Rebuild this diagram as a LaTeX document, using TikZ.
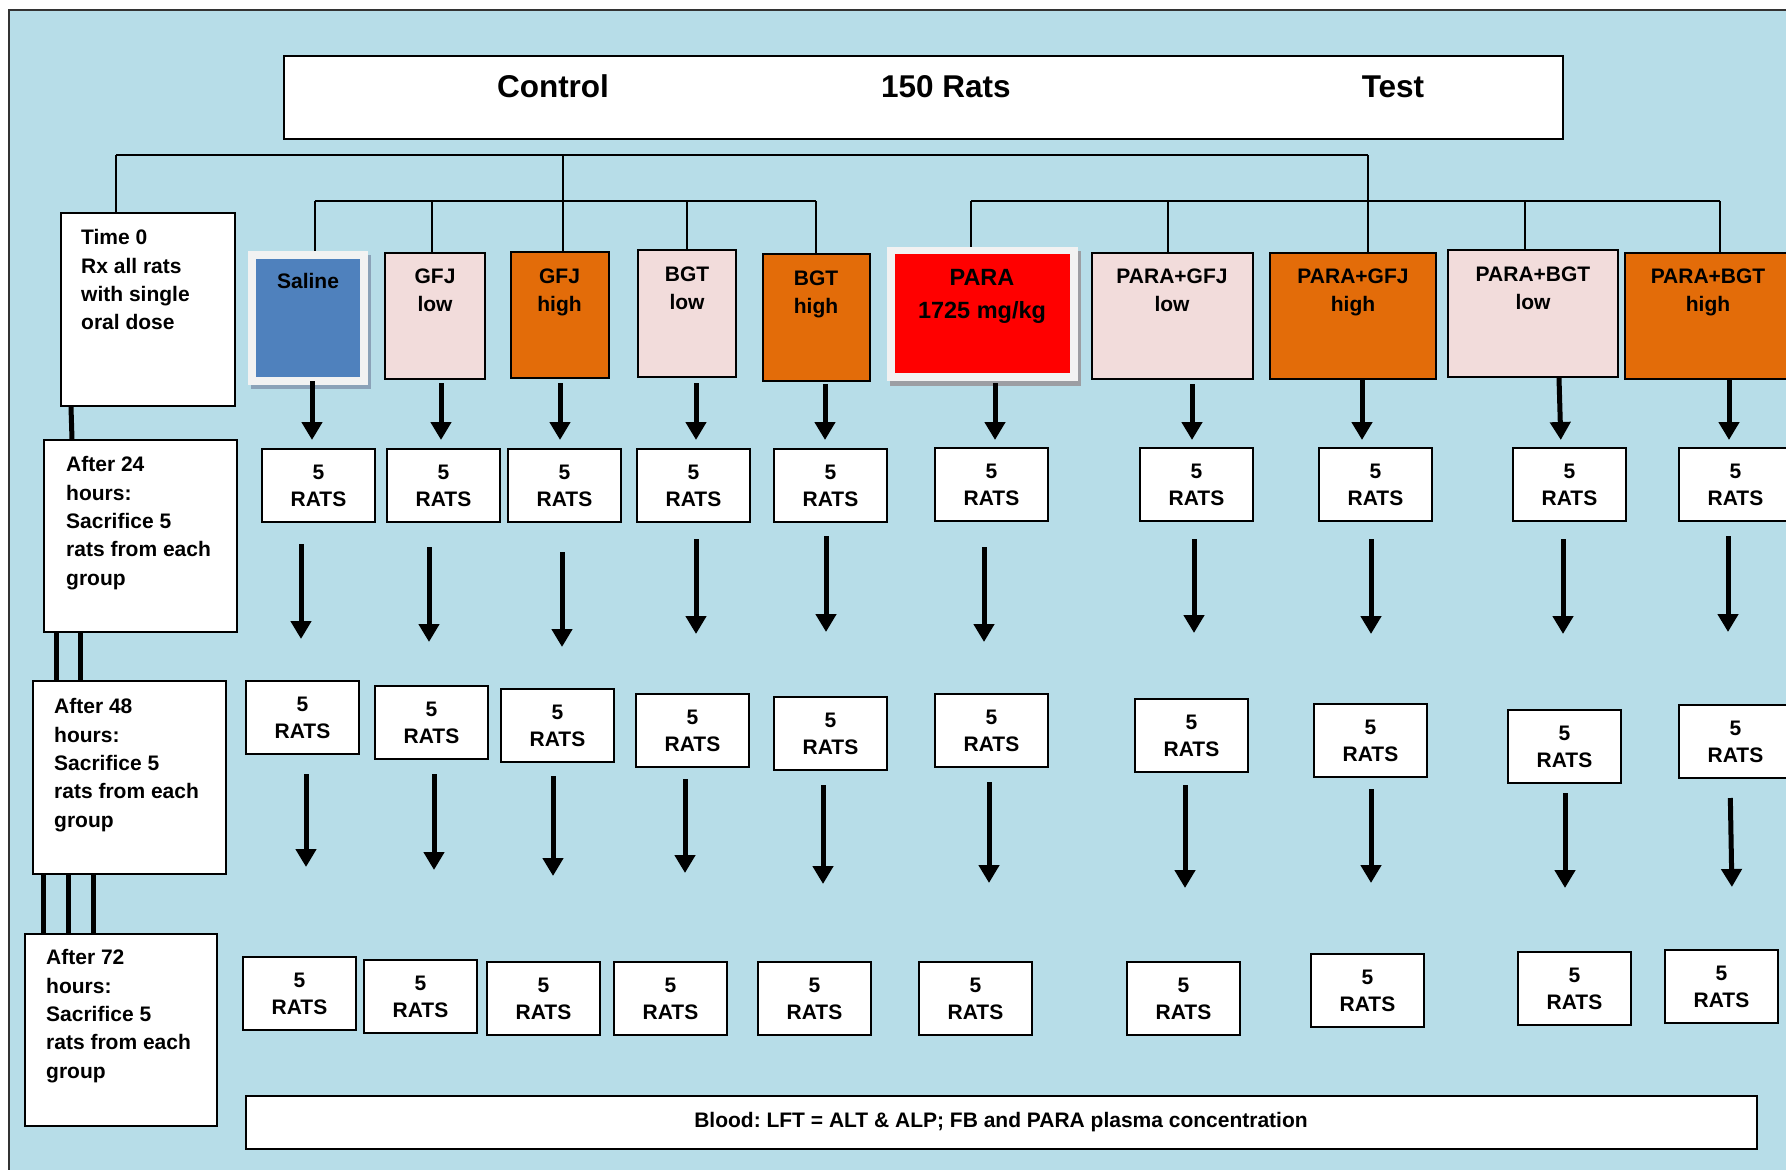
\documentclass[tikz,border=0pt]{standalone}
\usepackage{fontspec}
\setmainfont{Liberation Sans}
\usetikzlibrary{arrows.meta,fit}
\frenchspacing
\definecolor{bgblue}{HTML}{B7DDE8}
\definecolor{salblue}{HTML}{4F81BD}
\definecolor{lowpink}{HTML}{F2DCDB}
\definecolor{highorange}{HTML}{E36C09}
\definecolor{paleframe}{HTML}{F2F2F2}
\definecolor{salshadow}{HTML}{8BA2B8}
\definecolor{parashadow}{HTML}{9C9EA3}
\begin{document}
\begin{tikzpicture}[x=1pt,y=-1pt,
  box/.style={draw=black, line width=2pt, inner sep=0pt},
  fitbox/.style={box, fit={#1}},
  ratbox/.style={box, fill=white, minimum width=113pt, minimum height=73pt,
    anchor=north west, align=center, font=\fontsize{21}{27}\selectfont\bfseries},
  tree/.style={line width=1.6pt, draw=black},
  spine/.style={line width=5pt, draw=black},
  bigarrow/.style={line width=5pt, draw=black, -{Triangle[width=20pt,length=18pt]}},
  glabel/.style={anchor=north, inner sep=0pt, align=center,
    font=\fontsize{21}{28.5}\selectfont\bfseries},
  tlabel/.style={anchor=north west, inner sep=0pt, align=left,
    font=\fontsize{21}{28.3}\selectfont\bfseries},
  title/.style={anchor=base, inner sep=0pt, font=\fontsize{31.5}{36}\selectfont\bfseries},
]
\useasboundingbox (0,0) rectangle (1786,1170);
\clip (0,0) rectangle (1786,1170);

% background panel
\draw[line width=1.5pt, draw=black!80, fill=bgblue] (9,10) rectangle (1810,1190);

% heading box
\node[fitbox={(284,56) (1563,139)}, fill=white] (top) {};
\node[title] (tctl) at (553,97.5) {Control};
\node[title] (tall) at (946,97.5) {150 Rats};
\node[title] (ttst) at (1393,97.5) {Test};

% time line boxes
\node[fitbox={(61,213) (235,406)}, fill=white] (t0) {};
\node[fitbox={(44,440) (237,632)}, fill=white] (a24) {};
\node[fitbox={(33,681) (226,874)}, fill=white] (a48) {};
\node[fitbox={(25,934) (217,1126)}, fill=white] (a72) {};
\node[tlabel] (t0txt) at (81,229.5) {Time 0\\Rx all rats\\with single\\oral dose};
\node[tlabel] (a24txt) at (66,456.5) {After 24\\hours:\\Sacrifice 5\\rats from each\\group};
\node[tlabel] (a48txt) at (54,698.5) {After 48\\hours:\\Sacrifice 5\\rats from each\\group};
\node[tlabel] (a72txt) at (46,949.5) {After 72\\hours:\\Sacrifice 5\\rats from each\\group};

% treatment groups
\fill[salshadow] (251,255) rectangle (371,389);
\node[fit={(248,251) (368,385)}, inner sep=0pt, fill=paleframe] (g1) {};
\node[fit={(256,259) (360,377)}, inner sep=0pt, fill=salblue] (g1in) {};
\node[fitbox={(385,253) (485,379)}, fill=lowpink] (g2) {};
\node[fitbox={(511,252) (609,378)}, fill=highorange] (g3) {};
\node[fitbox={(638,250) (736,377)}, fill=lowpink] (g4) {};
\node[fitbox={(763,254) (870,381)}, fill=highorange] (g5) {};
\fill[parashadow] (890,251) rectangle (1081,386);
\node[fit={(887,247) (1078,381)}, inner sep=0pt, fill=paleframe] (g6) {};
\node[fit={(895,254) (1070,373)}, inner sep=0pt, fill=red] (g6in) {};
\node[fitbox={(1092,253) (1253,379)}, fill=lowpink] (g7) {};
\node[fitbox={(1270,253) (1436,379)}, fill=highorange] (g8) {};
\node[fitbox={(1448,250) (1618,377)}, fill=lowpink] (g9) {};
\node[fitbox={(1625,253) (1795,379)}, fill=highorange] (g10) {};

\node[glabel] (l1) at (308,273.5) {Saline};
\node[glabel] (l2) at (435,268.5) {GFJ\\low};
\node[glabel] (l3) at (559.5,268.5) {GFJ\\high};
\node[glabel] (l4) at (687,266.5) {BGT\\low};
\node[glabel] (l5) at (816,270.5) {BGT\\high};
\node[glabel, font=\fontsize{23.5}{33}\selectfont\bfseries] (l6) at (982,269.6) {PARA\\1725 mg/kg};
\node[glabel] (l7) at (1172,268.5) {PARA+GFJ\\low};
\node[glabel] (l8) at (1353,268.5) {PARA+GFJ\\high};
\node[glabel] (l9) at (1533,266.5) {PARA+BGT\\low};
\node[glabel] (l10) at (1708,268.5) {PARA+BGT\\high};

% branching lines
\coordinate (busAl) at (116,155);
\coordinate (busAm) at (563,155);
\coordinate (busAr) at (1368,155);
\coordinate (busBl) at (315,201);
\coordinate (busBr) at (816,201);
\coordinate (busCl) at (971,201);
\coordinate (busCr) at (1720,201);
\draw[tree] (busAl) -- (busAr);
\draw[tree] (busAl) -- (busAl |- t0.north);
\draw[tree] (busAm) -- (busAm |- g3.north);
\draw[tree] (busAr) -- (busAr |- g8.north);
\draw[tree] (busBl) -- (busBr);
\draw[tree] (busCl) -- (busCr);
\draw[tree] (busBl) -- (busBl |- g1.north);
\draw[tree] (432,201) -- (432,0 |- g2.north);
\draw[tree] (687,201) -- (687,0 |- g4.north);
\draw[tree] (busBr) -- (busBr |- g5.north);
\draw[tree] (busCl) -- (busCl |- g6.north);
\draw[tree] (1168,201) -- (1168,0 |- g7.north);
\draw[tree] (1525,201) -- (1525,0 |- g9.north);
\draw[tree] (busCr) -- (busCr |- g10.north);

% time line links
\draw[spine] (71,0 |- t0.south) -- (72,0 |- a24.north);
\draw[spine] (56,0 |- a24.south) -- (56,0 |- a48.north);
\draw[spine] (80,0 |- a24.south) -- (80,0 |- a48.north);
\draw[spine] (43,0 |- a48.south) -- (43,0 |- a72.north);
\draw[spine] (68,0 |- a48.south) -- (68,0 |- a72.north);
\draw[spine] (93,0 |- a48.south) -- (93,0 |- a72.north);

% rat boxes, three sampling times
\foreach \i/\x/\y in {1/261/448, 2/386/448, 3/507/448, 4/636/448, 5/773/448,
    6/934/447, 7/1139/447, 8/1318/447, 9/1512/447, 10/1678/447}
  \node[ratbox] (ra\i) at (\x,\y) {5\\RATS};
\foreach \i/\x/\y in {1/245/680, 2/374/685, 3/500/688, 4/635/693, 5/773/696,
    6/934/693, 7/1134/698, 8/1313/703, 9/1507/709, 10/1678/704}
  \node[ratbox] (rb\i) at (\x,\y) {5\\RATS};
\foreach \i/\x/\y in {1/242/956, 2/363/959, 3/486/961, 4/613/961, 5/757/961,
    6/918/961, 7/1126/961, 8/1310/953, 9/1517/951, 10/1664/949}
  \node[ratbox] (rc\i) at (\x,\y) {5\\RATS};

% arrows: group -> first sampling
\foreach \i/\xs/\xe/\s/\e in {1/312/312/-4/8, 2/441/441/3/8, 3/560/560/4/8,
    4/696/696/5/8, 5/825/825/2/8, 6/995/995/2/7, 7/1192/1192/4/7,
    8/1362/1362/0/7, 9/1559/1561/0/7, 10/1729/1729/-2/7}
  \draw[bigarrow, shorten <=\s pt, shorten >=\e pt] (\xs,0 |- g\i.south) -- (\xe,0 |- ra\i.north);
% arrows: 24 h -> 48 h
\foreach \i/\xs/\xe/\s/\e in {1/301/301/21/41, 2/429/429/24/43, 3/562/562/29/41,
    4/696/696/16/59, 5/826/826/13/64, 6/984/984/25/51, 7/1194/1194/17/65,
    8/1371/1371/17/69, 9/1563/1563/17/75, 10/1728/1728/14/72}
  \draw[bigarrow, shorten <=\s pt, shorten >=\e pt] (\xs,0 |- ra\i.south) -- (\xe,0 |- rb\i.north);
% arrows: 48 h -> 72 h
\foreach \i/\xs/\xe/\s/\e in {1/306/306/19/89, 2/434/434/14/89, 3/553/553/13/85,
    4/685/685/11/88, 5/823/823/14/77, 6/989/989/14/78, 7/1185/1185/12/73,
    8/1371/1371/11/70, 9/1565/1565/9/63, 10/1730/1733/19/62}
  \draw[bigarrow, shorten <=\s pt, shorten >=\e pt] (\xs,0 |- rb\i.south) -- (\xe,0 |- rc\i.north);

% measurements
\node[fitbox={(246,1096) (1757,1149)}, fill=white] (blood) {};
\node[anchor=base, inner sep=0pt, font=\fontsize{21}{25}\selectfont\bfseries] (bloodtxt) at (1001,1127.5)
  {Blood: LFT = ALT \& ALP; FB and PARA plasma concentration};
\end{tikzpicture}
\end{document}
